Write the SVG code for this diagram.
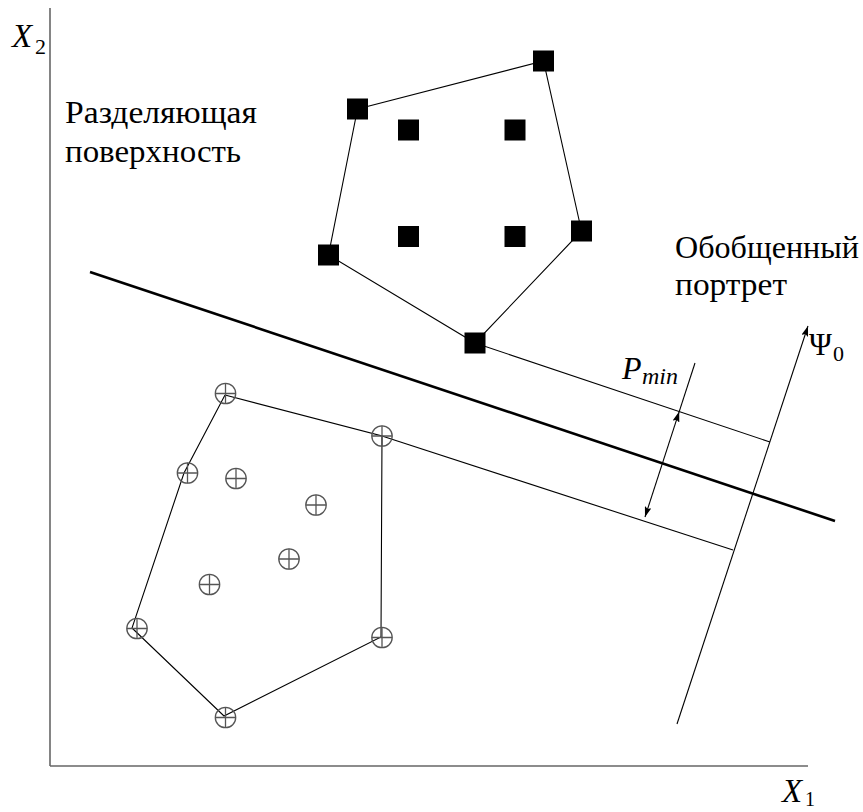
<svg xmlns="http://www.w3.org/2000/svg" width="863" height="812" viewBox="0 0 863 812">
<defs>
<marker id="arrow" markerUnits="userSpaceOnUse" markerWidth="11" markerHeight="7" refX="10.5" refY="3.5" orient="auto-start-reverse">
<path d="M0,0 L10.5,3.5 L0,7 L2,3.5 z" fill="#000"/>
</marker>
<g id="sq"><rect x="-10.5" y="-10.5" width="21" height="21" fill="#000"/></g>
<g id="cp"><circle r="10.2" fill="none" stroke="#555" stroke-width="1.3"/><path d="M-10.2,0 H10.2 M0,-10.2 V10.2" stroke="#555" stroke-width="1.3"/></g>
</defs>
<style>
.ax{stroke:#666;stroke-width:1.6;fill:none}
.ln{stroke:#000;stroke-width:1.1;fill:none}
.thick{stroke:#000;stroke-width:2.6;fill:none}
.i{font-style:italic}
</style>
<rect width="863" height="812" fill="#fff"/>
<g id="axes">
<line class="ax" x1="50" y1="8" x2="50" y2="766"/>
<line class="ax" x1="50" y1="766" x2="808" y2="766"/>
</g>
<g id="connectors">
<polyline class="ln" points="357.5,109 543.5,61 581.5,231 475,343 328.5,255 357.5,109"/>
<line class="thick" x1="90" y1="272" x2="835" y2="521"/>
<line class="ln" x1="475" y1="343" x2="770" y2="442"/>
<polyline class="ln" points="225,395 184,473 132,628 224,716 381,637 382,436 225,395"/>
<line class="ln" x1="382" y1="436" x2="733" y2="550"/>
<line class="ln" x1="677" y1="724" x2="808" y2="326" marker-end="url(#arrow)"/>
<line class="ln" x1="695" y1="363" x2="679.2" y2="411.6"/>
<line class="ln" x1="679.2" y1="411.6" x2="645" y2="517" marker-start="url(#arrow)" marker-end="url(#arrow)"/>
</g>
<g id="squares">
<use href="#sq" x="543.5" y="61"/>
<use href="#sq" x="357.5" y="109"/>
<use href="#sq" x="408.5" y="130"/>
<use href="#sq" x="515" y="130"/>
<use href="#sq" x="581.5" y="231"/>
<use href="#sq" x="408.5" y="236.5"/>
<use href="#sq" x="515" y="236.5"/>
<use href="#sq" x="328.5" y="255"/>
<use href="#sq" x="475" y="343"/>
</g>
<g id="circles">
<use href="#cp" x="225.5" y="393.5"/>
<use href="#cp" x="382" y="436"/>
<use href="#cp" x="187.5" y="473"/>
<use href="#cp" x="236" y="478.5"/>
<use href="#cp" x="316" y="505"/>
<use href="#cp" x="289" y="559"/>
<use href="#cp" x="209.5" y="584.5"/>
<use href="#cp" x="137" y="628.5"/>
<use href="#cp" x="382" y="637.5"/>
<use href="#cp" x="225.5" y="717.5"/>
</g>
<g id="labels" font-family="'Liberation Serif', serif" fill="#000">
<text class="i" x="12" y="47" font-size="33">X</text>
<text x="35" y="54" font-size="22">2</text>
<text class="i" x="782" y="802" font-size="33">X</text>
<text x="805" y="806" font-size="20">1</text>
<text x="65" y="123" font-size="32" textLength="192" lengthAdjust="spacingAndGlyphs">Разделяющая</text>
<text x="65" y="162" font-size="32" textLength="176" lengthAdjust="spacingAndGlyphs">поверхность</text>
<text x="675" y="258" font-size="32" textLength="184" lengthAdjust="spacingAndGlyphs">Обобщенный</text>
<text x="675" y="295" font-size="32" textLength="112" lengthAdjust="spacingAndGlyphs">портрет</text>
<text class="i" x="622" y="379" font-size="32">P</text>
<text class="i" x="642" y="384" font-size="24">min</text>
<text x="809" y="355" font-size="31">Ψ</text>
<text x="833" y="361" font-size="22">0</text>
</g>
</svg>
